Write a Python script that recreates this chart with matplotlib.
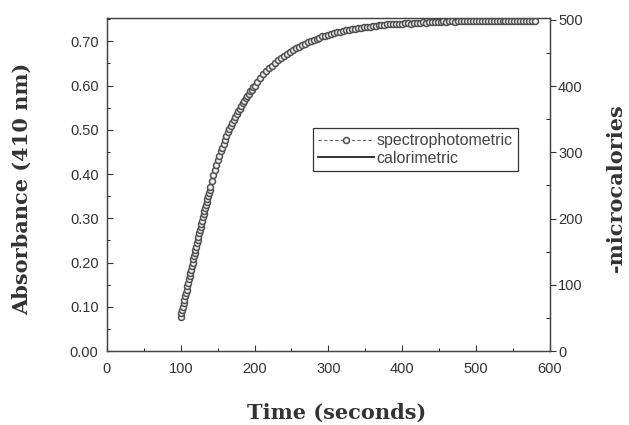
import numpy as np
import matplotlib
matplotlib.use("Agg")
import matplotlib.pyplot as plt
from matplotlib.ticker import MultipleLocator, FormatStrFormatter

# spectrophotometric absorbance at 410 nm
# sample times: 1 s up to 140 s, 2 s up to 198 s, 4 s after that
t_spec = np.concatenate([np.arange(100, 141, 1), np.arange(142, 200, 2), np.arange(200, 584, 4)])
abs_spec = [
    # 100-140 s
    0.077, 0.085, 0.093, 0.100, 0.108, 0.116, 0.124, 0.131, 0.139, 0.146,
    0.154, 0.162, 0.169, 0.177, 0.184, 0.192, 0.199, 0.207, 0.214, 0.222,
    0.229, 0.236, 0.244, 0.251, 0.258, 0.266, 0.273, 0.280, 0.287, 0.294,
    0.302, 0.309, 0.316, 0.323, 0.330, 0.337, 0.344, 0.351, 0.358, 0.364,
    0.371,
    # 142-198 s
    0.385, 0.397, 0.409, 0.420, 0.431, 0.441, 0.451, 0.460, 0.469, 0.478,
    0.486, 0.494, 0.501, 0.509, 0.516, 0.523, 0.529, 0.536, 0.542, 0.548,
    0.554, 0.560, 0.566, 0.571, 0.576, 0.582, 0.587, 0.591, 0.596,
    # 200-580 s
    0.600, 0.609, 0.617, 0.625, 0.632, 0.639, 0.645, 0.651, 0.657, 0.662,
    0.667, 0.672, 0.676, 0.681, 0.684, 0.688, 0.692, 0.695, 0.698, 0.701,
    0.704, 0.706, 0.708, 0.711, 0.713, 0.715, 0.717, 0.719, 0.720, 0.722,
    0.723, 0.725, 0.726, 0.727, 0.728, 0.730, 0.731, 0.732, 0.732, 0.733,
    0.734, 0.735, 0.736, 0.736, 0.737, 0.738, 0.738, 0.739, 0.739, 0.740,
    0.740, 0.741, 0.741, 0.740, 0.742, 0.742, 0.742, 0.743, 0.742, 0.743,
    0.744, 0.743, 0.744, 0.744, 0.745, 0.744, 0.745, 0.745, 0.744, 0.746,
    0.745, 0.746, 0.745, 0.746, 0.747, 0.746, 0.746, 0.747, 0.746, 0.745,
    0.746, 0.747, 0.746, 0.746, 0.747, 0.746, 0.745, 0.746, 0.746, 0.747,
    0.746, 0.746, 0.745, 0.746, 0.746, 0.745,
]

# calorimetric heat (-microcalories)
t_cal = np.arange(100, 590, 10)
heat_cal = [
    52, 104, 155, 203, 249, 289, 321, 346, 368, 387,
    403, 417, 429, 439, 448, 455, 462, 467, 472, 476,
    480, 483, 485, 488, 489, 491, 493, 494, 495, 496,
    497, 497, 498, 498, 499, 499, 499, 500, 500, 500,
    500, 500, 501, 501, 501, 501, 501, 501, 501,
]

fig = plt.figure(figsize=(6.29, 4.25), dpi=100)
ax = fig.add_axes([0.170, 0.174, 0.704, 0.784])
ax2 = ax.twinx()

ax.plot(t_spec, abs_spec, linestyle=(0, (3, 2)), color='#666666', linewidth=0.8,
        marker='o', markersize=4.3, markerfacecolor='#f2f2f2', markeredgecolor='#505050',
        markeredgewidth=1.1, label='spectrophotometric', zorder=3)
ax2.plot(t_cal, heat_cal, color='#222222', linewidth=1.3, label='calorimetric', zorder=2)
ax.set_zorder(ax2.get_zorder() + 1)
ax.patch.set_visible(False)

ax.set_xlim(0, 600)
ax.set_ylim(0, 0.753)
ax2.set_ylim(0, 503)

ax.xaxis.set_major_locator(MultipleLocator(100))
ax.xaxis.set_minor_locator(MultipleLocator(50))
ax.yaxis.set_major_locator(MultipleLocator(0.1))
ax.yaxis.set_minor_locator(MultipleLocator(0.05))
ax.yaxis.set_major_formatter(FormatStrFormatter('%.2f'))
ax2.yaxis.set_major_locator(MultipleLocator(100))
ax2.yaxis.set_minor_locator(MultipleLocator(50))

tick_font = 'Liberation Sans'
for a in (ax, ax2):
    for lab in a.get_xticklabels() + a.get_yticklabels():
        lab.set_fontfamily(tick_font)
    a.tick_params(labelsize=10.5, colors='#333333', width=0.8)
    for sp in a.spines.values():
        sp.set_linewidth(0.9)
        sp.set_color('#444444')

ax.tick_params(axis='both', which='major', direction='in', length=4)
ax.tick_params(axis='both', which='minor', direction='in', length=2.5)
ax.tick_params(axis='x', pad=8)
ax.tick_params(axis='y', pad=6)
ax2.tick_params(axis='y', which='major', direction='out', length=4, pad=2)
ax2.tick_params(axis='y', which='minor', direction='in', length=3)

label_font = dict(family='DejaVu Serif', weight='bold', size=15, color='#333333')
ax.set_xlabel('Time (seconds)', **label_font)
ax.set_ylabel('Absorbance (410 nm)', **label_font)
ax2.set_ylabel('-microcalories', **label_font)
ax.xaxis.set_label_coords(0.518, -0.156)
ax.yaxis.set_label_coords(-0.169, 0.486)
ax2.yaxis.set_label_coords(1.126, 0.49)

h1, l1 = ax.get_legend_handles_labels()
h2, l2 = ax2.get_legend_handles_labels()
leg = ax.legend(h1 + h2, l1 + l2, loc='upper left', bbox_to_anchor=(0.465, 0.670),
                borderaxespad=0, frameon=True, fancybox=False, framealpha=1,
                edgecolor='#333333', handlelength=3.5, handletextpad=0.15,
                borderpad=0.35, labelspacing=0.15,
                prop={'family': tick_font, 'size': 11.5})
leg.get_frame().set_linewidth(0.9)
for txt in leg.get_texts():
    txt.set_color('#444444')

fig.savefig('out.png', dpi=100)
